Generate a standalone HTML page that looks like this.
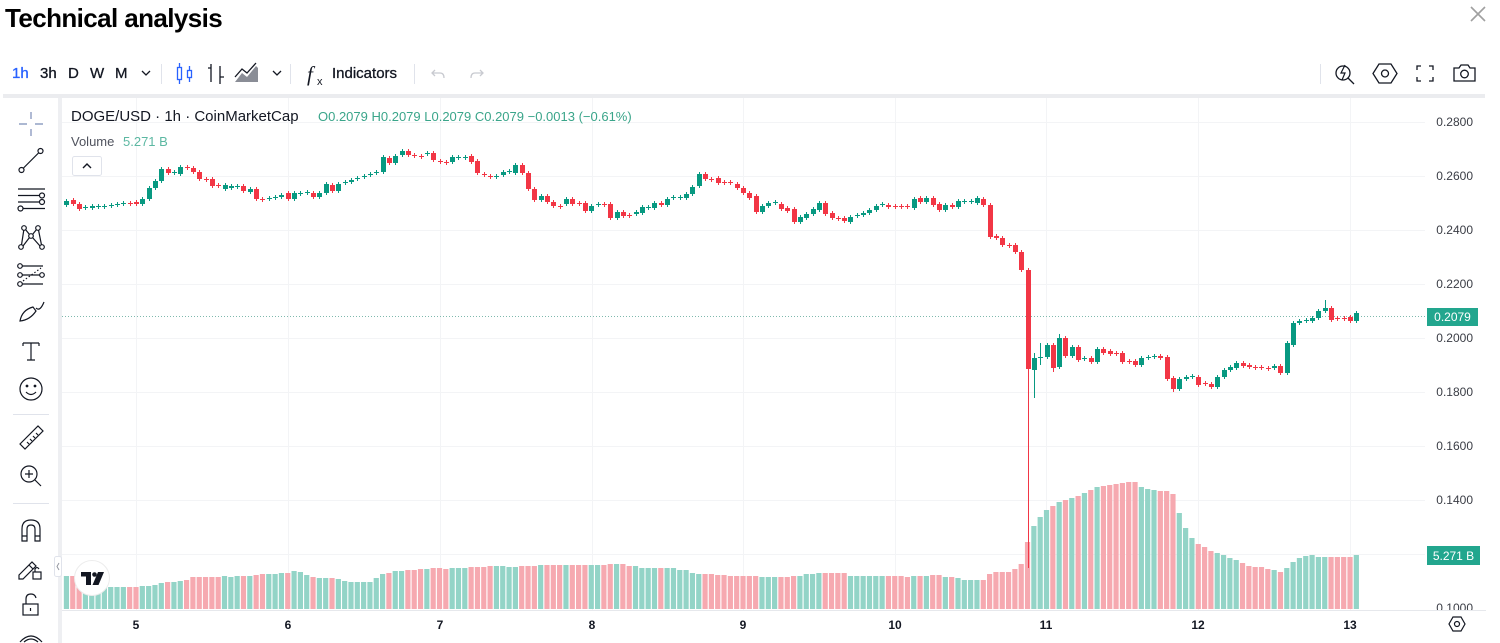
<!DOCTYPE html>
<html><head><meta charset="utf-8">
<style>
html,body{margin:0;padding:0;background:#fff;width:1500px;height:643px;overflow:hidden}
svg{display:block;font-family:"Liberation Sans",Arial,sans-serif}
</style></head><body>
<svg id="s" width="1500" height="643" viewBox="0 0 1500 643" xmlns="http://www.w3.org/2000/svg">
<rect width="1500" height="643" fill="#fff"/>
<defs><clipPath id="axclip"><rect x="1425" y="97" width="75" height="513"/></clipPath></defs>

<!-- Title -->
<text x="5" y="27" font-size="26" font-weight="bold" letter-spacing="-0.6" fill="#000">Technical analysis</text>
<path d="M1471 7 L1485 21 M1485 7 L1471 21" stroke="#a0a0a0" stroke-width="1.6"/>

<!-- Top toolbar -->
<g font-size="15" fill="#131722" stroke="#131722" stroke-width="0.3">
<text x="12" y="78" fill="#2962ff" stroke="#2962ff">1h</text>
<text x="40" y="78">3h</text>
<text x="68" y="78">D</text>
<text x="90" y="78">W</text>
<text x="115" y="78">M</text>
<text x="332" y="78">Indicators</text>
</g>
<g fill="none" stroke="#131722" stroke-width="1.3">
<path d="M142 71 L146 75 L150 71"/>
<path d="M273 71 L277 75 L281 71"/>
<path d="M211 64 V82 M211 68 H208 M220 66 V84 M220 77 H224" />
</g>
<g fill="none" stroke="#2962ff" stroke-width="1.3">
<rect x="177.5" y="67.5" width="4" height="12"/><path d="M179.5 63 V67 M179.5 80 V84"/>
<rect x="187.5" y="70.5" width="4" height="7"/><path d="M189.5 66 V70 M189.5 78 V82"/>
</g>
<path d="M235 82 L242 73 L247 77 L256 66 L258 68 L258 82 Z" fill="#8a8d96"/>
<path d="M235 77 L242 69 L247 73 L256 63" fill="none" stroke="#131722" stroke-width="1.3"/>
<text x="307" y="81" font-size="21" font-style="italic" font-family="Liberation Serif,serif" fill="#131722">f</text>
<text x="317" y="85" font-size="11" fill="#131722">x</text>
<g stroke="#e0e3eb" stroke-width="1">
<path d="M161.5 64 V84 M290.5 64 V84 M414.5 64 V84 M1320.5 64 V84"/>
</g>
<g fill="none" stroke="#c8cad0" stroke-width="1.3">
<path d="M435 70 L432 73 L435 76 M432 73 H440 Q444 73 444 78"/>
<path d="M480 70 L483 73 L480 76 M483 73 H475 Q471 73 471 78"/>
</g>
<g fill="none" stroke="#131722" stroke-width="1.3">
<circle cx="1343" cy="73" r="7"/><path d="M1348 78 L1354 84"/><path d="M1345 65 L1341 73 H1345 L1342 80" stroke-width="1.2"/>
<path d="M1379 64 H1391 L1397 73.5 L1391 83 H1379 L1373 73.5 Z"/><circle cx="1385" cy="73.5" r="3.5"/>
<path d="M1417 70 V66 H1421 M1429 66 H1433 V70 M1433 77 V81 H1429 M1421 81 H1417 V77"/>
<path d="M1454 68 H1459 L1461 65 H1468 L1470 68 H1475 V81 H1454 Z"/><circle cx="1464.5" cy="74" r="3.8"/>
</g>

<rect x="3" y="94" width="1482" height="4" fill="#ebecef"/>
<rect x="58" y="98" width="4" height="545" fill="#eeeff2"/>

<!-- Left toolbar icons -->
<g fill="none" stroke="#131722" stroke-width="1.2">
<path d="M31 112 V119 M31 129 V136 M19 124 H27 M35 124 H43" stroke="#7b8db8"/>
<circle cx="21.5" cy="170" r="2.5"/><circle cx="40.5" cy="151" r="2.5"/><path d="M23.5 168 L38.5 153"/>
<path d="M18 189 H45 M18 195.5 H39 M18 202 H39 M23 208.5 H45"/><circle cx="42" cy="195.5" r="2.5"/><circle cx="42" cy="202" r="2.5"/><circle cx="20.5" cy="208.5" r="2.5"/>
<circle cx="21" cy="247" r="2.3"/><circle cx="24" cy="228" r="2.3"/><circle cx="31" cy="236" r="2.3"/><circle cx="38" cy="228" r="2.3"/><circle cx="42" cy="247" r="2.3"/>
<path d="M21.5 245 L23.8 230 M25.5 229.5 L29.5 234.5 M32.5 234.5 L36.5 229.5 M38.5 230 L41.5 245 M23 246 L29.5 237.5 M32.5 237.5 L40 246"/>
<circle cx="20" cy="266" r="2.3"/><circle cx="20" cy="275" r="2.3"/><circle cx="20" cy="284" r="2.3"/><circle cx="42" cy="275" r="2.3"/>
<path d="M22.5 266 H43 M22.5 275 H39.5 M22.5 284 H43"/><path d="M23 281 L41 268" stroke-dasharray="1.5,2"/>
<path d="M20 321 Q22 310 33 307 L36 311 Q30 320 20 321 Z M36 308 Q40 312 44 302"/>
<path d="M23 343 H39 M31 343 V360 M27 360 H35 M23 343 V346 M39 343 V346"/>
<circle cx="31" cy="389" r="11"/><circle cx="27" cy="386" r="0.8" fill="#131722"/><circle cx="35" cy="386" r="0.8" fill="#131722"/><path d="M26 392 Q31 397 36 392"/>
<path d="M20 444 L38 426 L43 431 L25 449 Z M27 442 L29 444 M30 439 L32 441 M33 436 L35 438 M36 433 L38 435"/>
<circle cx="29" cy="474" r="8"/><path d="M35 480 L41 486 M29 470 V478 M25 474 H33"/>
<path d="M22 541 V529 Q22 520 31 520 Q40 520 40 529 V541 H35 V529 Q35 525 31 525 Q27 525 27 529 V541 Z M22 536 H27 M35 536 H40"/>
<path d="M19 575 L32 562 L36 566 L23 579 H19 Z M29 565 L33 569"/><rect x="33" y="572" width="8" height="7"/><path d="M35 572 V569 Q37 566 39 569"/>
<rect x="23" y="604" width="15" height="11"/><path d="M26 604 V599 Q26 594 31 594 Q35 594 36 598"/><path d="M30.5 608 V611"/>
<path d="M20 642 Q31 630 42 642 M24 642 Q31 636 38 642"/>
</g>
<g stroke="#e0e3eb" stroke-width="1"><path d="M13 414.5 H49 M13 503.5 H49"/></g>

<g id="grid" stroke="#f3f4f6" stroke-width="1"></g>

<g id="vol"></g>
<path d="M62 316.5 H1425" stroke="#7fb9ad" stroke-width="1" stroke-dasharray="1,2"/>
<g id="cand"></g>

<path d="M62 610.5 H1486" stroke="#e6e8ec" stroke-width="1"/>

<g font-size="12" fill="#3a3d45" text-anchor="end" clip-path="url(#axclip)">
<text x="1473" y="126">0.2800</text>
<text x="1473" y="180">0.2600</text>
<text x="1473" y="234">0.2400</text>
<text x="1473" y="288">0.2200</text>
<text x="1473" y="342">0.2000</text>
<text x="1473" y="396">0.1800</text>
<text x="1473" y="450">0.1600</text>
<text x="1473" y="504">0.1400</text>
<text x="1473" y="558">0.1200</text>
<text x="1473" y="612">0.1000</text>
</g>
<rect x="1427" y="308" width="51" height="18" fill="#22a68e"/>
<text x="1452.5" y="321" font-size="12" fill="#fff" text-anchor="middle">0.2079</text>
<rect x="1427" y="546" width="53" height="19" fill="#22a68e"/>
<text x="1453.5" y="560" font-size="12" fill="#fff" text-anchor="middle">5.271 B</text>

<g font-size="12" font-weight="bold" fill="#131722" text-anchor="middle">
<text x="136" y="629">5</text>
<text x="288" y="629">6</text>
<text x="440" y="629">7</text>
<text x="592" y="629">8</text>
<text x="743" y="629">9</text>
<text x="895" y="629">10</text>
<text x="1046" y="629">11</text>
<text x="1198" y="629">12</text>
<text x="1350" y="629">13</text>
</g>
<g fill="none" stroke="#131722" stroke-width="1.2">
<path d="M1453 617 H1461 L1465 624 L1461 631 H1453 L1449 624 Z"/><circle cx="1457" cy="624" r="2.5"/>
</g>

<text x="71" y="121" font-size="15" fill="#131722">DOGE/USD · 1h · CoinMarketCap</text>
<text x="318" y="121" font-size="13" fill="#3aa58a">O0.2079 H0.2079 L0.2079 C0.2079 −0.0013 (−0.61%)</text>
<text x="71" y="146" font-size="13" fill="#50535e">Volume</text>
<text x="123" y="146" font-size="13" fill="#5cb8a2">5.271 B</text>
<rect x="72.5" y="156.5" width="29" height="19" rx="2" fill="#fff" stroke="#e0e3eb"/>
<path d="M83 168 L87 164 L91 168" fill="none" stroke="#131722" stroke-width="1.4"/>

<rect x="54.5" y="556.5" width="7" height="20" rx="2" fill="#fff" stroke="#e0e3eb"/>
<path d="M59 563 L57 566.5 L59 570" fill="none" stroke="#9598a1" stroke-width="1"/>

<circle cx="92" cy="578" r="17.5" fill="#fff" stroke="#ececec" stroke-width="1"/>
<path d="M81 572 H91 V585 H86 V576.5 H81 Z" fill="#131722"/>
<circle cx="94.5" cy="574.5" r="2.3" fill="#131722"/>
<path d="M98 572 H104 L98.5 585 H92.5 Z" fill="#131722"/>
</svg>

<script>
(function(){
var D=[[205,201],[200,204],[204,209],[208,207],[208,206],[207,206],[207,206],[206,205],[205,204],[204,203],[203,204],
[202,204],[204,199],[199,188],[188,181],[181,169],[169,173],[173,172],[174,167],[167,168],[168,172],[172,179],[179,180],
[179,186],[185,186],[189,185],[188,186],[187,186],[186,191],[192,189],[189,199],[199,200],[199,198],[198,197],[197,195],
[193,199],[199,193],[194,193],[193,192],[193,197],[197,193],[193,184],[185,191],[191,184],[183,182],[182,180],[179,178],
[177,176],[175,174],[173,172],[172,157],[158,163],[163,156],[155,151],[151,155],[155,156],[156,157],[154,153],[153,160],
[161,162],[162,163],[162,157],[158,157],[158,157],[156,162],[161,173],[174,175],[176,177],[177,176],[175,172],[172,171],
[173,165],[165,173],[173,189],[189,200],
[200,196],[196,202],[202,206],[206,207],[204,199],[199,204],[203,204],[203,211],[211,206],[205,204],
[204,205],[204,218],[218,212],[212,216],[215,216],[214,212],[213,207],[208,207],[208,203],[203,205],[205,199],[198,197],
[198,197],[198,194],[194,187],[186,174],[174,179],[179,180],[178,183],[182,183],[182,183],[184,188],[188,193],[193,198],
[196,212],[212,206],[206,203],[203,202],[204,209],[208,211],[209,222],[222,217],[218,214],[214,209],[210,203],[203,214],
[213,218],[218,219],[218,221],[222,217],[216,215],[215,213],[213,210],[210,206],[205,204],[205,207],[206,207],[206,207],
[206,207],[208,199],[198,202],[202,198],[198,205],[204,210],[210,205],[205,207],[207,201],[202,201],[202,201],[203,198],
[199,205],[205,237],[236,238],[238,245],[245,246],[245,252],[252,270],[270,369],[370,358],[358,357],[357,345],[345,368],
[367,338],[338,356],[356,347],[347,360],[359,358],[358,362],[362,349],[349,353],[351,354],[353,354],[353,362],[361,362],
[361,365],[365,358],[358,357],[357,356],[356,358],[357,379],[378,389],[389,379],[379,377],[377,376],[377,385],[383,384],
[384,387],[387,377],[377,370],[370,367],[368,363],[363,366],[365,367],[367,368],[367,368],[368,369],[368,366],[366,373],
[373,343],[345,323],[323,321],[321,320],[321,318],[318,311],[311,308],[308,320],[318,319],[318,319],[317,321],[321,313]];
var V=[576,576,577,580,584,587,587,587,587,587,587,
587,586,586,585,583,582,582,581,580,577,577,577,577,577,576,577,576,576,576,575,574,574,574,573,573,571,572,575,577,578,
578,578,579,581,582,582,582,582,578,574,573,571,571,570,570,569,569,568,568,569,568,568,568,567,567,567,566,566,566,567,
567,566,566,566,
565,565,565,565,565,565,565,565,565,565,
565,564,564,564,566,566,568,568,568,568,568,568,570,570,573,574,574,574,575,575,576,576,576,576,576,577,577,577,577,577,
576,576,574,574,573,573,573,573,573,576,576,576,576,576,576,576,576,576,577,576,576,576,575,575,577,577,578,580,580,580,
580,574,572,572,572,569,564,542,526,517,510,506,502,500,498,496,493,490,487,486,485,484,483,482,482,487,489,490,491,491,
494,513,528,538,544,547,551,553,555,558,560,563,566,567,567,569,570,572,568,562,558,556,555,557,557,557,557,557,557,555];
var WK={141:[268,568],142:[353,398],143:[343,365],188:[300,313],145:[343,372],146:[334,369],164:[376,392],182:[341,375]};
var X0=136,DX=6.323,vol='',cand='',n=Math.min(D.length,V.length);
for(var i=0;i<n;i++){
 var h=i-11,x=X0+h*DX,xi=Math.round(x),o=D[i][0],c=D[i][1],up=c<o;
 var top=Math.min(o,c),bot=Math.max(o,c);
 if(bot-top<1)bot=top+1;
 var col=up?'#089981':'#f23645';
 vol+='<rect x="'+(x-2.6).toFixed(2)+'" y="'+V[i]+'" width="5.2" height="'+(609-V[i])+'" fill="'+(up?'#93d4c7':'#f6a9b0')+'"/>';
 var wt=top-2,wb=bot+2; if(WK[h]){wt=WK[h][0];wb=WK[h][1];}
 cand+='<rect x="'+xi+'" y="'+wt+'" width="1" height="'+(wb-wt)+'" fill="'+col+'"/>';
 cand+='<rect x="'+(xi-2)+'" y="'+top+'" width="5" height="'+(bot-top)+'" fill="'+col+'"/>';
}
var g='';
[122,176,230,284,338,392,446,500,554].forEach(function(y){g+='<path d="M62 '+(y+0.5)+' H1425"/>';});
[136,288,440,592,743,895,1046,1198,1350].forEach(function(x){g+='<path d="M'+(x+0.5)+' 98 V610"/>';});
document.getElementById('grid').innerHTML=g;
document.getElementById('vol').innerHTML=vol;
document.getElementById('cand').innerHTML=cand;
})();
</script>
</body></html>
